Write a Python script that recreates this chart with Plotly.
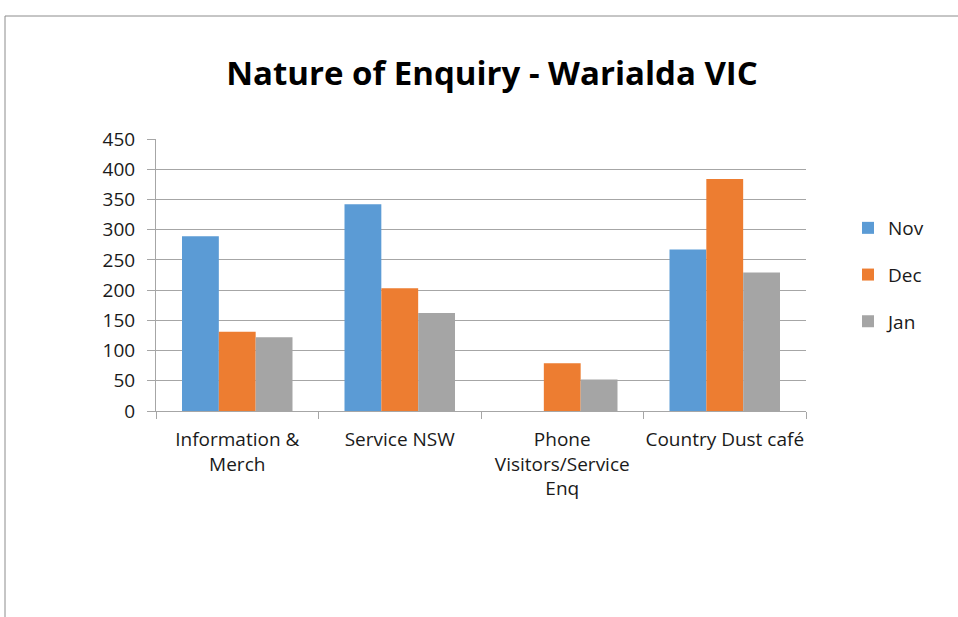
import plotly.graph_objects as go

categories = ["Information &<br>Merch", "Service NSW", "Phone<br>Visitors/Service<br>Enq", "Country Dust café"]
series_names = ["Nov", "Dec", "Jan"]
nov = [289, 342, 0, 267]
dec = [131, 203, 79, 384]
jan = [122, 162, 52, 229]
colors = ["#5B9BD5", "#ED7D31", "#A5A5A5"]
y_ticks = [0, 50, 100, 150, 200, 250, 300, 350, 400, 450]

W, H = 958, 617
L, R, T, B = 156, 806, 139, 411

fig = go.Figure()
for name, vals, col in zip(series_names, [nov, dec, jan], colors):
    fig.add_trace(go.Bar(x=categories, y=vals, name=name, legendgroup=name,
                         marker=dict(color=col, line=dict(width=0))))

font_family = "'Open Sans', Lato, sans-serif"
txt = "#1a1a1a"
fig.update_layout(
    width=W, height=H,
    margin=dict(l=L, r=W - R, t=T, b=H - B),
    paper_bgcolor="white", plot_bgcolor="white",
    barmode="group", bargap=0.32, bargroupgap=0,
    title=dict(text="<b>Nature of Enquiry - Warialda VIC</b>", x=(492 - L) / (R - L),
               xanchor="center", xref="paper",
               y=1 - 73 / H, yanchor="middle",
               font=dict(family=font_family, size=33, color="#000000")),
    font=dict(family=font_family, size=19, color=txt),
    legend=dict(x=(848 - L) / (R - L), y=(B - 275) / (B - T), xanchor="left", yanchor="middle",
                font=dict(size=19, color=txt), tracegroupgap=19,
                itemwidth=30, bgcolor="rgba(0,0,0,0)"),
    showlegend=True,
    hovermode=False,
)
fig.update_yaxes(range=[0, 450], tickvals=y_ticks, showgrid=True, gridcolor="#A6A6A6",
                 gridwidth=1, showline=True, linecolor="#A6A6A6", linewidth=1,
                 ticks="outside", ticklen=8, tickcolor="#A6A6A6", zeroline=False,
                 tickfont=dict(size=19, color=txt), ticklabelstandoff=8)
fig.update_xaxes(showline=True, linecolor="#A6A6A6", linewidth=1, ticks="outside",
                 ticklen=7, tickcolor="#A6A6A6", tickson="boundaries", tickangle=0,
                 tickfont=dict(size=19, color=txt), ticklabelstandoff=11)

# outer chart-area border (top and left edges visible)
fig.add_shape(type="line", xref="paper", yref="paper",
              x0=(5 - L) / (R - L), x1=(958 - L) / (R - L),
              y0=(B - 16) / (B - T), y1=(B - 16) / (B - T),
              line=dict(color="#8C8C8C", width=1))
fig.add_shape(type="line", xref="paper", yref="paper",
              x0=(5 - L) / (R - L), x1=(5 - L) / (R - L),
              y0=(B - 16) / (B - T), y1=(B - H) / (B - T),
              line=dict(color="#8C8C8C", width=1))

fig.write_html("out.html", config={"displayModeBar": False},
               post_script="document.body.style.margin='0';document.body.style.overflow='hidden';")
